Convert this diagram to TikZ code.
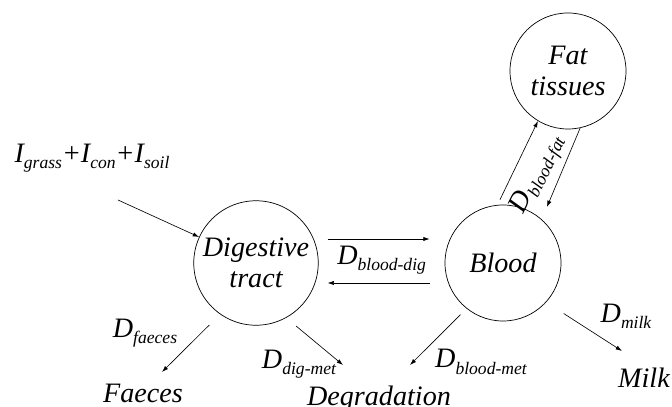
\documentclass[tikz,border=0pt]{standalone}
\usepackage{fontspec}
\setmainfont{Liberation Serif}
\usetikzlibrary{arrows.meta,positioning,shapes}
\usetikzlibrary{calc}

\newcommand{\subtxt}[1]{\raisebox{-4.5pt}{\fontsize{12.5}{13}\selectfont\itshape #1}}
\newcommand{\flux}[1]{D\subtxt{#1}}

\tikzset{
  txt/.style={font=\fontsize{20}{22}\selectfont\itshape, inner sep=2pt},
  pool/.style={txt, draw, circle, line width=0.5pt, minimum size=2.9cm, align=center},
  flow/.style={line width=0.45pt, -{Latex[length=4.5pt,width=3pt]}}
}

\begin{document}
\begin{tikzpicture}[x=0.025cm, y=0.025cm]
  \useasboundingbox (0, 0) rectangle (672, 407);

  \coordinate (inflow) at (118, 207);
  \coordinate (tofaeces) at (162, 35);
  \coordinate (todigmet) at (343, 42);
  \coordinate (tobloodmet) at (410, 42);
  \coordinate (tomilk) at (622, 56);

  \node[pool] (dig) at (256, 144) {Digestive\\tract};
  \node[pool] (blood) at (503, 144) {Blood};
  \node[pool] (fat) at (568, 336) {Fat\\tissues};

  \node[txt] (intake) at (92, 249) {I\subtxt{grass}+I\subtxt{con}+I\subtxt{soil}};
  \node[txt, anchor=base] (faeces) at (143, 4) {Faeces};
  \node[txt, anchor=base] (degr) at (379, 1) {Degradation};
  \node[txt, anchor=base] (milk) at (644, 19) {Milk};

  \node[txt] (ldig) at ($(dig.east)!0.5!(blood.west)+(0,3)$) {\flux{blood-dig}};
  \node[txt] (lfaeces) at (145, 74) {\flux{faeces}};
  \node[txt] (ldigmet) at (299, 43) {\flux{dig-met}};
  \node[txt] (lbloodmet) at (481, 45) {\flux{blood-met}};
  \node[txt] (lmilk) at (626, 91) {\flux{milk}};

  \draw[flow] (inflow) -- (dig);
  \draw[flow] ($(dig.east)+(9, 24)$) -- ($(blood.west)+(-15, 24)$);
  \draw[flow] ($(blood.west)+(-15, -20)$) -- ($(dig.east)+(9, -20)$);
  \draw[flow] ($(blood.north)+(-3, 5)$) -- node[txt, sloped, pos=0.45, below=4pt] (lfat) {\flux{blood-fat}} (fat.239);
  \draw[flow] (fat.282) -- ($(blood.52)+(8, 10)$);

  \draw[flow] ($(dig.233)+(-9, -12)$) -- (tofaeces);
  \draw[flow] ($(dig.302)+(7, -10)$) -- (todigmet);
  \draw[flow] ($(blood.230)+(-5, -7)$) -- (tobloodmet);
  \draw[flow] ($(blood.320)+(16, -13)$) -- (tomilk);
\end{tikzpicture}
\end{document}
